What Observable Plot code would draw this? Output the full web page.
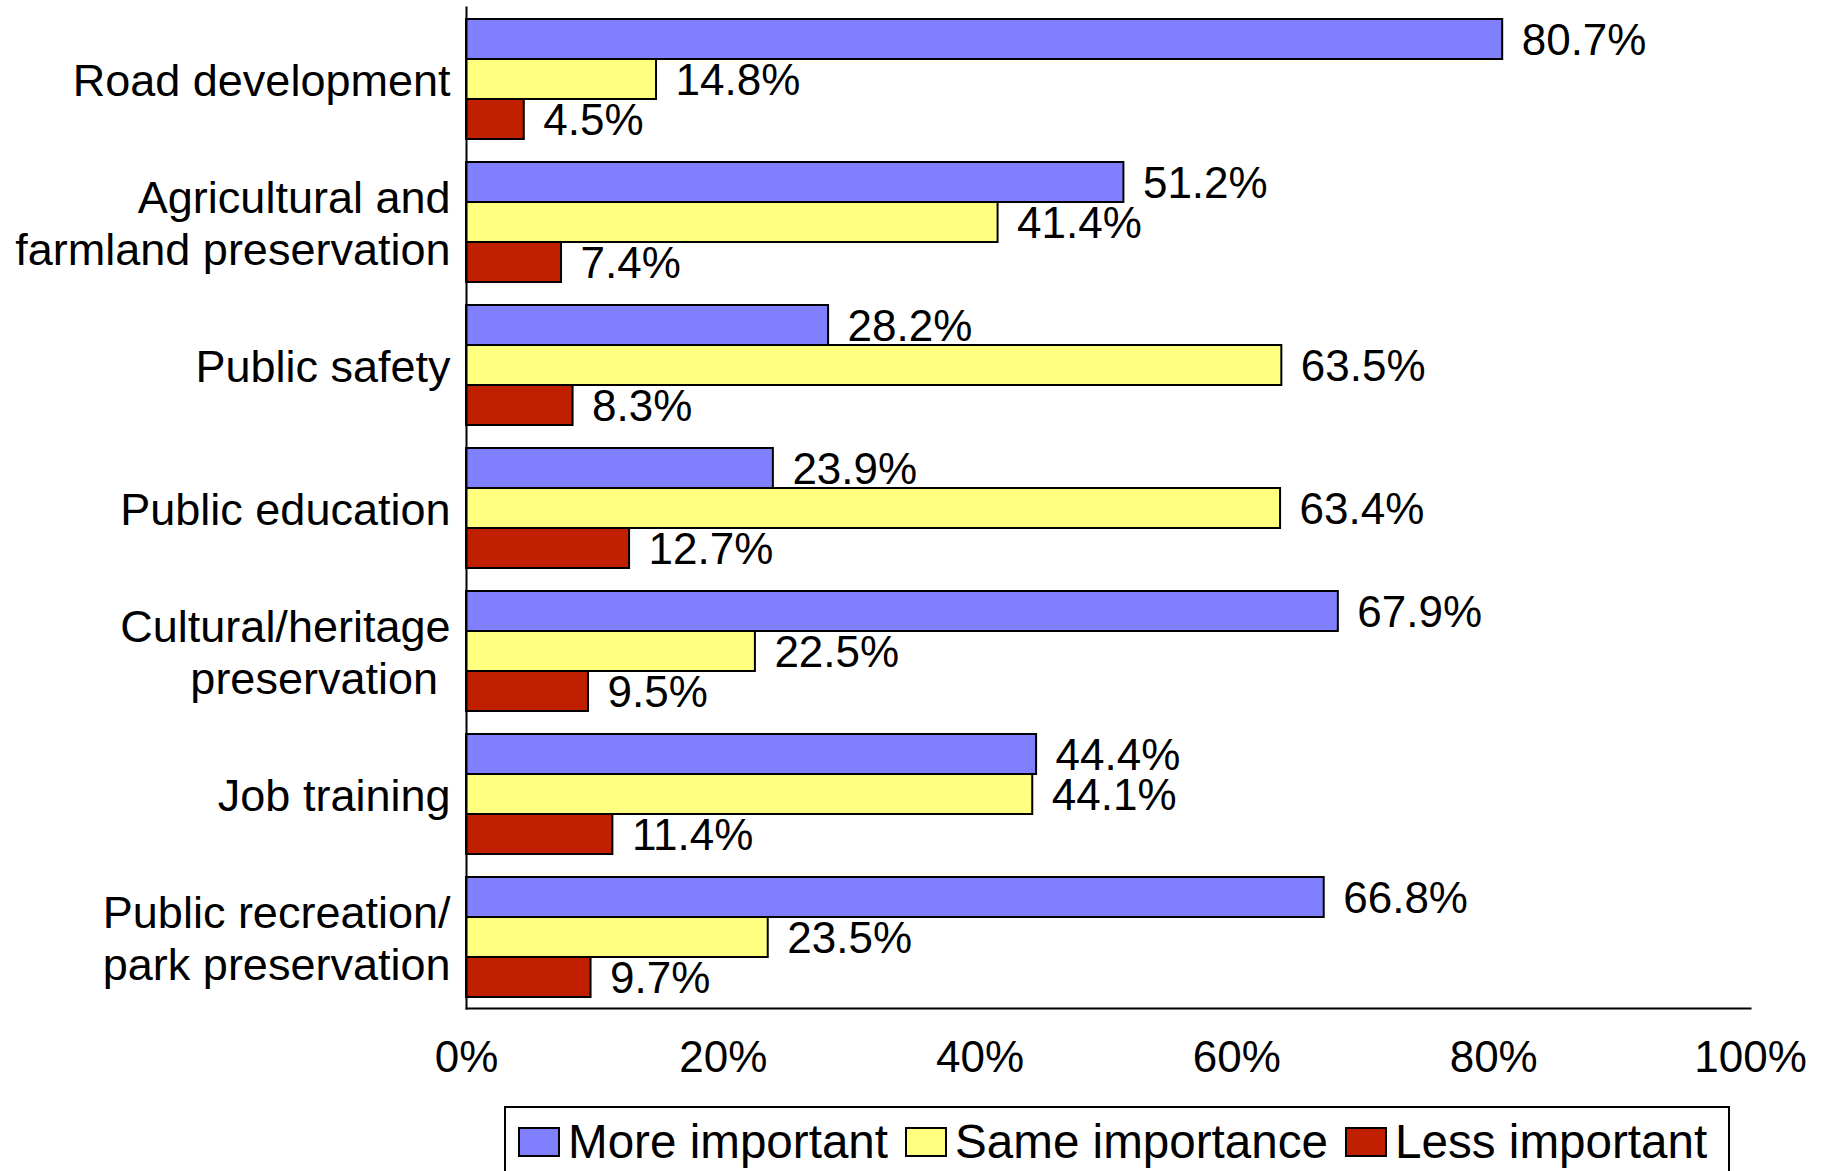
<!DOCTYPE html>
<html>
<head>
<meta charset="utf-8">
<script src="https://cdn.jsdelivr.net/npm/d3@7"></script>
<script src="https://cdn.jsdelivr.net/npm/@observablehq/plot@0.6"></script>
<style>
  html, body { margin: 0; padding: 0; background: #fff; }
  body { width: 1832px; height: 1171px; overflow: hidden; position: relative; font-family: "Liberation Sans", Arial, sans-serif; }
  #chart svg { display: block; }
  #legend {
    position: absolute; left: 504px; top: 1106px; width: 1226px; height: 80px;
    border: 2px solid #000; border-bottom: none; box-sizing: border-box;
    display: flex; align-items: flex-start; padding-left: 12px; padding-top: 10px;
    font-size: 47.6px; line-height: 1; color: #000; white-space: nowrap;
  }
  .item { display: flex; align-items: center; margin-right: 17px; }
  .sw { width: 42px; height: 30px; border: 2px solid #000; box-sizing: border-box; margin-right: 8px; }
</style>
</head>
<body>
<div id="chart"></div>
<div id="legend"></div>
<script>
const categories = [
  "Road development",
  "Agricultural and\nfarmland preservation",
  "Public safety",
  "Public education",
  "Cultural/heritage\npreservation\u00a0",
  "Job training",
  "Public recreation/\npark preservation"
];
const seriesNames = ["More important", "Same importance", "Less important"];
const seriesColors = ["#8080FF", "#FFFF80", "#C02000"];
const moreImportant = [80.7, 51.2, 28.2, 23.9, 67.9, 44.4, 66.8];
const sameImportance = [14.8, 41.4, 63.5, 63.4, 22.5, 44.1, 23.5];
const lessImportant = [4.5, 7.4, 8.3, 12.7, 9.5, 11.4, 9.7];
const xTicks = [0, 20, 40, 60, 80, 100];

const seriesValues = [moreImportant, sameImportance, lessImportant];
const data = [];
categories.forEach((c, i) => {
  seriesNames.forEach((s, j) => {
    data.push({category: c, series: s, value: seriesValues[j][i]});
  });
});

const font = '"Liberation Sans", Arial, sans-serif';

const plot = Plot.plot({
  width: 1832,
  height: 1090,
  marginLeft: 466,
  marginRight: 82,
  marginTop: 7,
  marginBottom: 82,
  style: {fontFamily: font, color: "#000", background: "#fff"},
  x: {domain: [0, 100], axis: null},
  fy: {domain: categories, paddingInner: 0.153, paddingOuter: 0.0765, label: null, axis: null},
  y: {domain: seriesNames, paddingInner: 0, paddingOuter: 0, axis: null},
  color: {domain: seriesNames, range: seriesColors},
  marks: [
    Plot.barX(data, {fy: "category", y: "series", x: "value", fill: "series", stroke: "#000", strokeWidth: 2}),
    Plot.text(data, {fy: "category", y: "series", x: "value", text: d => d.value.toFixed(1) + "%", textAnchor: "start", dx: 19, dy: 1, fontSize: 44, fill: "#000"}),
    Plot.axisFy({anchor: "left", tickSize: 0, tickPadding: 16, fontSize: 45, label: null, lineHeight: 1.16}),
    Plot.frame({anchor: "left", facet: "super", strokeWidth: 2, stroke: "#000", insetTop: -11, insetBottom: -11}),
    Plot.frame({anchor: "bottom", facet: "super", strokeWidth: 2, stroke: "#000", insetBottom: -11}),
    Plot.axisX({ticks: xTicks, tickFormat: d => d + "%", tickSize: 0, tickPadding: 43, fontSize: 44, label: null})
  ]
});
document.getElementById("chart").appendChild(plot);

const legend = document.getElementById("legend");
seriesNames.forEach((s, i) => {
  const item = document.createElement("div");
  item.className = "item";
  const sw = document.createElement("div");
  sw.className = "sw";
  sw.style.background = seriesColors[i];
  const t = document.createElement("span");
  t.textContent = s;
  item.appendChild(sw);
  item.appendChild(t);
  legend.appendChild(item);
});
</script>
</body>
</html>
